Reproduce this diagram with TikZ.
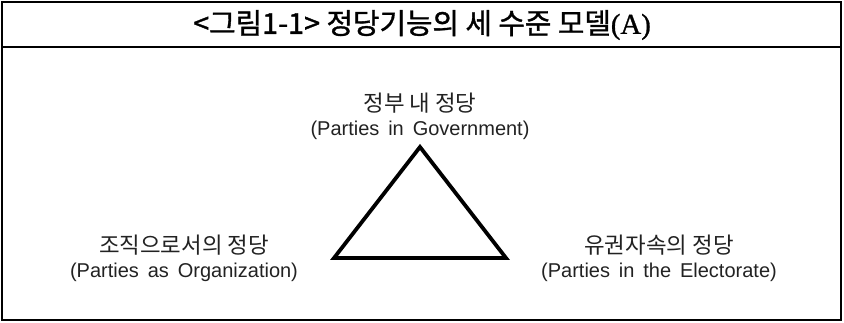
\documentclass[tikz,border=0pt]{standalone}
\usepackage{fontspec}
\setmainfont{Liberation Sans}[WordSpace=1.6]
\newfontfamily\kr{Noto Sans CJK KR}[Scale=1.12]
\newfontfamily\krb{Noto Sans CJK KR}[FakeBold=1.2]
\newfontfamily\titleen{Liberation Serif}[FakeBold=1]
\definecolor{txt}{HTML}{222222}
\tikzset{
  lbl/.style={align=center, text=txt, font=\fontsize{20}{24}\selectfont, inner sep=0pt},
  tri/.style={line width=3.8pt, line join=miter},
}
\begin{document}
\begin{tikzpicture}[x=1pt,y=-1pt]
\useasboundingbox (0,0) rectangle (844,323);
\draw[line width=2.8pt] (2,2) rectangle (841,320);
\draw[line width=1.3pt] (2,47) -- (841,47);
\node[inner sep=0pt] (title) at (422,25) {\krb\fontsize{28.8}{30}\selectfont <그림1-1> 정당기능의 세 수준 모델\titleen(A)};
\coordinate (apex) at (420,147);
\coordinate (bl) at (334,258);
\coordinate (br) at (506,258);
\draw[tri] (apex) -- (bl) -- (br) -- cycle;
\node[lbl] (top) at (420,116) {{\kr 정부 내 정당}\\(Parties in Government)};
\node[lbl] (left) at (184,258) {{\kr 조직으로서의 정당}\\(Parties as Organization)};
\node[lbl] (right) at (659,258) {{\kr 유권자속의 정당}\\(Parties in the Electorate)};
\end{tikzpicture}
\end{document}
